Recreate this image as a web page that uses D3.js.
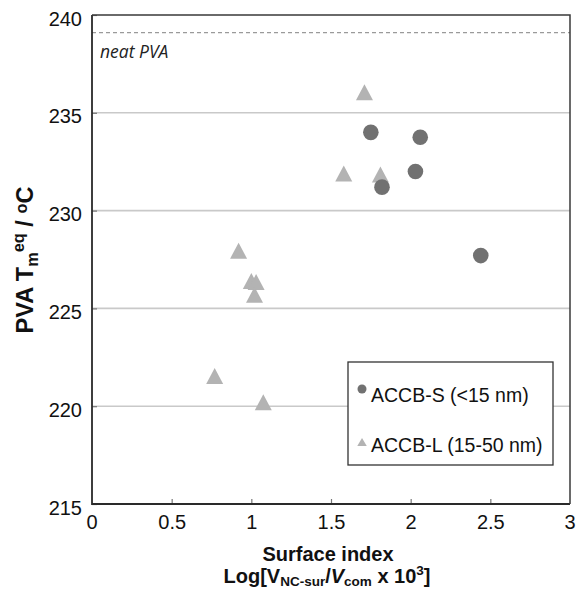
<!DOCTYPE html>
<html>
<head>
<meta charset="utf-8">
<script src="https://cdn.jsdelivr.net/npm/d3@7"></script>
<style>
	body { margin: 0; background: #fff; }
	svg { display: block; font-family: "Liberation Sans", Arial, sans-serif; }
</style>
</head>
<body>
<svg id="chart" width="584" height="591"></svg>
<script>
// values
var seriesNames = ["ACCB-S (<15 nm)", "ACCB-L (15-50 nm)"];
var smallX = [1.75, 2.06, 2.03, 1.82, 2.44];
var smallY = [234.0, 233.75, 232.0, 231.2, 227.7];
var largeX = [1.71, 1.58, 1.81, 0.92, 1.00, 1.03, 1.02, 0.77, 1.075];
var largeY = [236.05, 231.9, 231.85, 227.95, 226.4, 226.35, 225.7, 221.55, 220.2];
var xTicks = [0, 0.5, 1, 1.5, 2, 2.5, 3];
var yTicks = [215, 220, 225, 230, 235, 240];
var gridValues = [220, 225, 230, 235];
var neatPVA = 239.1;

var margin = {top: 15, right: 14, bottom: 87, left: 92},
	width = 584 - margin.left - margin.right,
	height = 591 - margin.top - margin.bottom;

var svg = d3.select('#chart');
var g = svg.append('g').attr('transform', "translate(" + margin.left + "," + margin.top + ")");

var x = d3.scaleLinear().domain([0, 3]).range([0, width]);
var y = d3.scaleLinear().domain([215, 240]).range([height, 0]);

// grid
g.selectAll('.grid').data(gridValues).enter().append('line')
	.attr('x1', 0).attr('x2', width)
	.attr('y1', function(d) { return y(d); })
	.attr('y2', function(d) { return y(d); })
	.attr('stroke', '#c9c9c9')
	.attr('stroke-width', 1.6);

// neat PVA reference
g.append('line')
	.attr('x1', 0).attr('x2', width)
	.attr('y1', y(neatPVA)).attr('y2', y(neatPVA))
	.attr('stroke', '#9a9a9a')
	.attr('stroke-width', 1.2)
	.attr('stroke-dasharray', "4,3");

g.append('text')
	.attr('x', 8).attr('y', 43)
	.attr('font-family', '"Open Sans", sans-serif')
	.attr('font-style', 'italic')
	.attr('font-size', 17.5)
	.attr('fill', '#222')
	.text("neat PVA");

// axes
var xAxis = d3.axisBottom(x).tickValues(xTicks.slice(1, -1)).tickSizeInner(-5).tickSizeOuter(0).tickPadding(11)
	.tickFormat(function(d) { return String(d); });
var yAxis = d3.axisLeft(y).tickValues(yTicks).tickSizeInner(-5).tickSizeOuter(0).tickPadding(10)
	.tickFormat(function(d) { return String(d); });

var gx = g.append('g').attr('transform', "translate(0," + height + ")").call(xAxis);
var gy = g.append('g').call(yAxis);

[gx, gy].forEach(function(a) {
	a.select('.domain').remove();
	a.selectAll('.tick line').attr('stroke', '#777').attr('stroke-width', 1.2);
	a.selectAll('text').attr('font-size', 20).attr('fill', '#111')
		.attr('font-family', '"Liberation Sans", Arial, sans-serif');
});
gy.selectAll('.tick text').attr('dy', "0.5em");

// end labels of x axis ("0" and "3") sit on the frame corners
g.selectAll('.xend').data([xTicks[0], xTicks[xTicks.length - 1]]).enter().append('text')
	.attr('x', function(d) { return x(d); })
	.attr('y', height + 25)
	.attr('text-anchor', 'middle')
	.attr('font-size', 20)
	.attr('fill', '#111')
	.text(function(d) { return String(d); });

// frame
g.append('path')
	.attr('d', "M0,0 V" + height + " H" + width)
	.attr('fill', 'none').attr('stroke', '#2a2a2a').attr('stroke-width', 1.8);
g.append('path')
	.attr('d', "M0,0 H" + width + " V" + height)
	.attr('fill', 'none').attr('stroke', '#3a3a3a').attr('stroke-width', 1.5);

// markers
var triPath = function(w, h) {
	return "M0," + (-h / 2) + " L" + (w / 2) + "," + (h / 2) + " L" + (-w / 2) + "," + (h / 2) + " Z";
};

var large = largeX.map(function(v, i) { return {x: v, y: largeY[i]}; });
var small = smallX.map(function(v, i) { return {x: v, y: smallY[i]}; });

g.selectAll('.tri').data(large).enter().append('path')
	.attr('d', triPath(17, 16))
	.attr('transform', function(d) { return "translate(" + x(d.x) + "," + y(d.y) + ")"; })
	.attr('fill', '#b3b3b3');

g.selectAll('.dot').data(small).enter().append('circle')
	.attr('cx', function(d) { return x(d.x); })
	.attr('cy', function(d) { return y(d.y); })
	.attr('r', 7.8)
	.attr('fill', '#717171');

// legend
var legend = svg.append('g').attr('transform', "translate(348,362)");
legend.append('rect')
	.attr('width', 205).attr('height', 103)
	.attr('fill', '#fff').attr('stroke', '#333').attr('stroke-width', 1.3);
legend.append('circle').attr('cx', 14).attr('cy', 27).attr('r', 4.5).attr('fill', '#717171');
legend.append('path').attr('d', triPath(9.5, 8)).attr('transform', "translate(14,80)").attr('fill', '#b3b3b3');
legend.selectAll('.lt').data(seriesNames).enter().append('text')
	.attr('x', 23)
	.attr('y', function(d, i) { return 40 + i * 50; })
	.attr('font-size', 19.5)
	.attr('fill', '#111')
	.text(function(d) { return d; });

// x title
var xt = svg.append('g').attr('font-weight', 'bold').attr('font-size', 20).attr('fill', '#111').attr('text-anchor', 'middle');
xt.append('text').attr('x', 328).attr('y', 561).text("Surface index");
var xt2 = xt.append('text').attr('x', 327).attr('y', 583);
xt2.append('tspan').text("Log[V");
xt2.append('tspan').attr('font-size', 13.5).attr('dy', 3).text("NC-sur");
xt2.append('tspan').attr('dy', -3).text("/");
xt2.append('tspan').attr('font-style', 'italic').text("V");
xt2.append('tspan').attr('font-size', 13.5).attr('dy', 3).text("com");
xt2.append('tspan').attr('dy', -3).text(" x 10");
xt2.append('tspan').attr('font-size', 13.5).attr('dy', -8).text("3");
xt2.append('tspan').attr('dy', 8).text("]");

// y title, squeezed lengthwise like the original
var yt = svg.append('g');
var ytt = yt.append('text').attr('font-weight', 'bold').attr('font-size', 23).attr('fill', '#111').attr('text-anchor', 'middle');
ytt.append('tspan').text("PVA T");
ytt.append('tspan').attr('font-size', 16).attr('dy', 5).text("m");
ytt.append('tspan').attr('font-size', 16).attr('dy', -14).text("eq");
ytt.append('tspan').attr('dy', 9).text(" / ");
ytt.append('tspan').attr('font-size', 16).attr('dy', -6).text("o");
ytt.append('tspan').attr('dy', 6).text("C");
var natural = ytt.node().getComputedTextLength();
yt.attr('transform', "translate(33,260) rotate(-90) scale(" + (147 / natural) + ",1)");
</script>
</body>
</html>
